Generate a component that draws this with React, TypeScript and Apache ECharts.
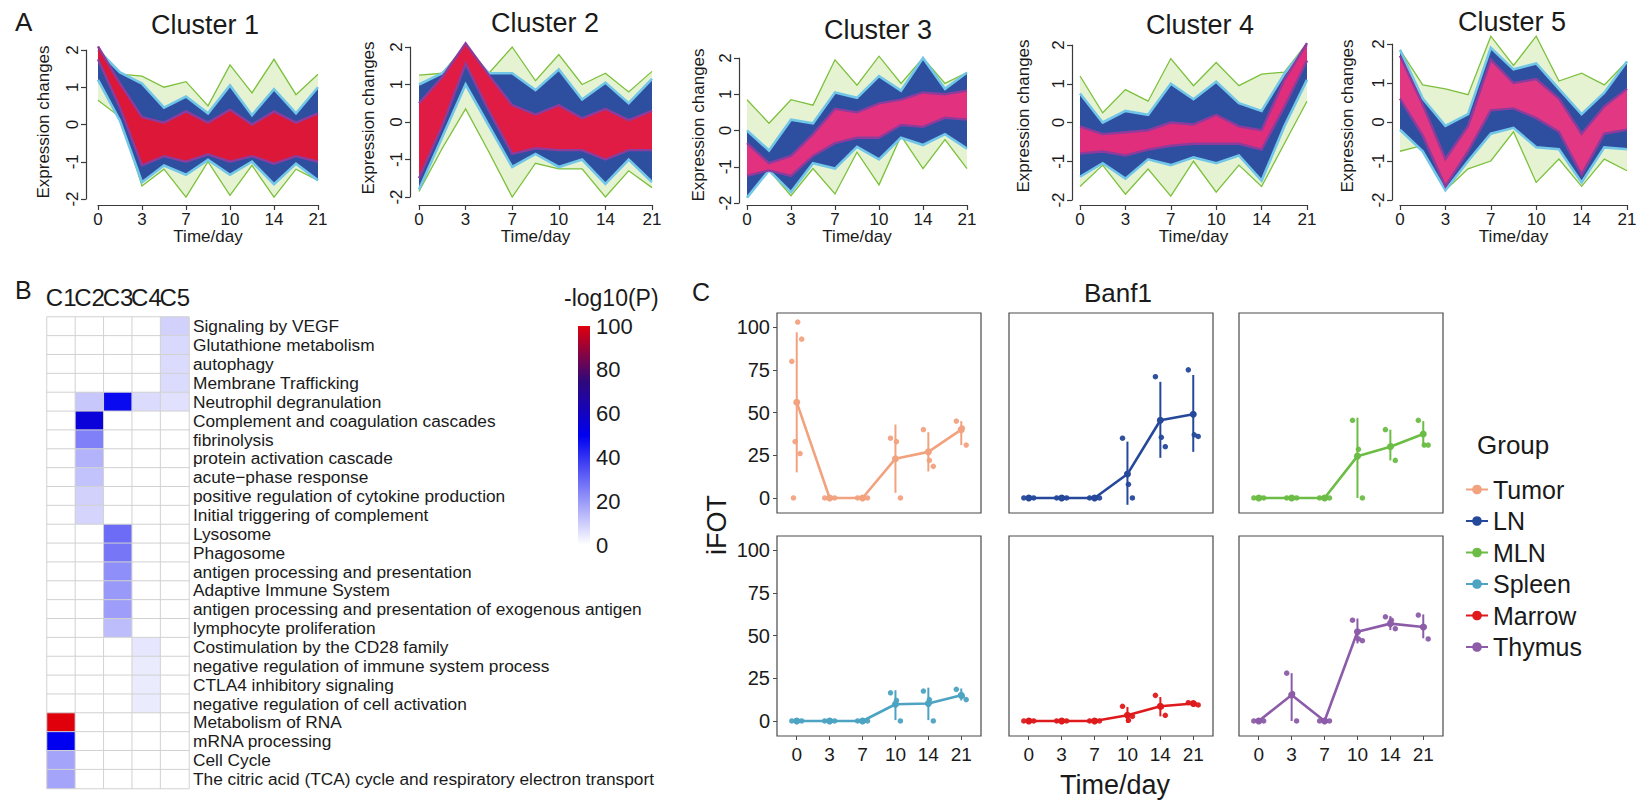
import React, { useEffect, useRef } from 'react';
import * as echarts from 'echarts';

const FONT = "'Liberation Sans', Arial, Helvetica, sans-serif";

// ---------- Panel A : Mfuzz clusters (11 time steps, labelled every 2nd) ----------
const timeLabels = ['0', '3', '7', '10', '14', '21'];
const clusterNames = ['Cluster 1', 'Cluster 2', 'Cluster 3', 'Cluster 4', 'Cluster 5'];

const c1GreenHi = [2.05, 1.35, 1.3, 1.0, 1.15, 0.5, 1.6, 0.85, 1.75, 0.8, 1.35];
const c1GreenLo = [0.65, 0.2, -1.65, -1.2, -1.95, -1.0, -1.9, -1.1, -1.95, -1.2, -1.5];
const c1BlueHi = [2.0, 1.4, 1.1, 0.45, 0.75, 0.3, 1.05, 0.25, 0.95, 0.3, 1.0];
const c1BlueLo = [1.2, 0.1, -1.55, -1.1, -1.35, -0.95, -1.35, -1.0, -1.6, -1.05, -1.5];
const c1CoreHi = [2.1, 1.1, 0.2, 0.05, 0.35, 0.05, 0.4, 0.0, 0.35, 0.05, 0.3];
const c1CoreLo = [1.75, 0.45, -1.1, -0.85, -1.0, -0.8, -1.0, -0.85, -1.05, -0.85, -1.0];

const c2GreenHi = [1.25, 1.3, 2.05, 1.3, 2.0, 1.1, 1.8, 1.0, 1.3, 0.8, 1.35];
const c2GreenLo = [-1.85, -0.7, 0.35, -0.8, -2.0, -1.1, -1.25, -1.25, -2.0, -1.3, -1.75];
const c2BlueHi = [1.0, 1.3, 1.95, 1.3, 1.3, 0.85, 1.4, 0.6, 1.05, 0.5, 1.15];
const c2BlueLo = [-1.8, -0.4, 1.0, -0.1, -1.2, -0.85, -1.2, -1.0, -1.65, -1.0, -1.6];
const c2CoreHi = [0.5, 1.2, 2.1, 1.25, 0.45, 0.2, 0.45, 0.1, 0.35, 0.05, 0.3];
const c2CoreLo = [-1.5, -0.1, 1.55, 0.3, -0.85, -0.7, -0.75, -0.75, -1.0, -0.75, -0.75];

const c3GreenHi = [0.85, 0.2, 0.85, 0.7, 1.95, 1.25, 2.05, 1.3, 2.0, 1.3, 1.6];
const c3GreenLo = [-1.85, -1.1, -1.8, -1.05, -1.75, -0.6, -1.5, -0.15, -1.05, -0.25, -1.05];
const c3BlueHi = [0.0, -0.55, 0.3, 0.2, 1.05, 0.9, 1.5, 1.1, 2.0, 1.15, 1.6];
const c3BlueLo = [-1.85, -1.1, -1.7, -0.9, -1.05, -0.45, -0.8, -0.2, -0.4, -0.1, -0.5];
const c3CoreHi = [-0.35, -0.9, -0.7, -0.1, 0.6, 0.5, 0.75, 0.85, 1.05, 1.0, 1.1];
const c3CoreLo = [-1.25, -1.1, -1.25, -0.7, -0.35, -0.2, -0.2, 0.15, 0.1, 0.35, 0.3];

const c4GreenHi = [1.2, 0.25, 0.85, 0.55, 1.65, 0.95, 1.55, 0.95, 1.25, 1.3, 2.05];
const c4GreenLo = [-1.65, -1.1, -1.85, -1.2, -1.9, -1.0, -1.8, -1.1, -1.65, -0.55, 0.55];
const c4BlueHi = [0.75, 0.0, 0.3, 0.2, 1.0, 0.6, 1.05, 0.5, 0.3, 1.25, 2.0];
const c4BlueLo = [-1.4, -1.05, -1.45, -0.95, -1.1, -0.9, -1.05, -0.85, -1.5, -0.1, 1.1];
const c4CoreHi = [-0.1, -0.3, -0.25, -0.2, 0.0, -0.05, 0.2, -0.1, -0.2, 1.1, 2.05];
const c4CoreLo = [-0.8, -0.75, -0.85, -0.7, -0.6, -0.55, -0.55, -0.55, -0.7, 0.4, 1.6];

const c5GreenHi = [1.85, 0.95, 0.85, 0.7, 2.2, 1.45, 2.2, 1.05, 1.25, 0.95, 1.55];
const c5GreenLo = [-0.75, -0.6, -1.75, -1.2, -1.0, -0.25, -1.55, -0.95, -1.65, -0.95, -1.25];
const c5BlueHi = [1.85, 0.6, -0.1, 0.2, 1.9, 1.35, 1.5, 0.85, 0.2, 0.75, 1.55];
const c5BlueLo = [-0.2, -0.75, -1.75, -1.0, -0.3, -0.15, -0.65, -0.7, -1.55, -0.65, -0.7];
const c5CoreHi = [1.7, 0.45, -0.95, -0.1, 1.6, 1.0, 1.1, 0.6, -0.3, 0.4, 0.85];
const c5CoreLo = [0.6, -0.35, -1.65, -0.75, 0.3, 0.35, 0.1, -0.25, -1.35, -0.3, -0.2];

// ---------- Panel B : enrichment heatmap ----------
const clusterCols = ['C1', 'C2', 'C3', 'C4', 'C5'];
const termLabels = [
  'Signaling by VEGF',
  'Glutathione metabolism',
  'autophagy',
  'Membrane Trafficking',
  'Neutrophil degranulation',
  'Complement and coagulation cascades',
  'fibrinolysis',
  'protein activation cascade',
  'acute\u2212phase response',
  'positive regulation of cytokine production',
  'Initial triggering of complement',
  'Lysosome',
  'Phagosome',
  'antigen processing and presentation',
  'Adaptive Immune System',
  'antigen processing and presentation of exogenous antigen',
  'lymphocyte proliferation',
  'Costimulation by the CD28 family',
  'negative regulation of immune system process',
  'CTLA4 inhibitory signaling',
  'negative regulation of cell activation',
  'Metabolism of RNA',
  'mRNA processing',
  'Cell Cycle',
  'The citric acid (TCA) cycle and respiratory electron transport',
];
const enrichment = [
  [0, 0, 0, 0, 9],
  [0, 0, 0, 0, 7.5],
  [0, 0, 0, 0, 7],
  [0, 0, 0, 0, 7],
  [0, 11, 48, 7, 6],
  [0, 55, 0, 0, 0],
  [0, 25, 0, 0, 0],
  [0, 15, 0, 0, 0],
  [0, 12, 0, 0, 0],
  [0, 9, 0, 0, 0],
  [0, 8.5, 0, 0, 0],
  [0, 0, 29, 0, 0],
  [0, 0, 27, 0, 0],
  [0, 0, 22, 0, 0],
  [0, 0, 20, 0, 0],
  [0, 0, 19, 0, 0],
  [0, 0, 13, 0, 0],
  [0, 0, 0, 5, 0],
  [0, 0, 0, 4, 0],
  [0, 0, 0, 4, 0],
  [0, 0, 0, 4, 0],
  [100, 0, 0, 0, 0],
  [50, 0, 0, 0, 0],
  [18, 0, 0, 0, 0],
  [18, 0, 0, 0, 0],
];
const colorbarTicks = [0, 20, 40, 60, 80, 100];

// ---------- Panel C : Banf1 iFOT ----------
const groupNames = ['Tumor', 'LN', 'MLN', 'Spleen', 'Marrow', 'Thymus'];
const iFotTicks = [0, 25, 50, 75, 100];

const tumorMean = [56, 0, 0, 23, 27, 40];
const tumorLow = [15, 0, 0, 3, 15.5, 31];
const tumorHigh = [97, 0, 0, 43, 38.5, 45];
const tumorPoints = [[80, 103, 93, 33, 26, 0], [0, 0, 0], [0, 0, 0], [35, 33, 0], [40, 22, 18.5], [45, 41, 31]];

const lnMean = [0, 0, 0, 14, 45.5, 49];
const lnLow = [0, 0, 0, -4, 23.5, 27];
const lnHigh = [0, 0, 0, 33, 68, 72];
const lnPoints = [[0, 0, 0], [0, 0, 0], [0, 0, 0], [35, 8, 0], [71, 35.5, 30], [75, 37, 36]];

const mlnMean = [0, 0, 0, 24.5, 30, 37.5];
const mlnLow = [0, 0, 0, 0, 22, 30.5];
const mlnHigh = [0, 0, 0, 47, 40, 45];
const mlnPoints = [[0, 0, 0], [0, 0, 0], [0, 0, 0], [45.5, 28.5, 0], [40, 30.5, 22], [45.5, 31, 31]];

const spleenMean = [0, 0, 0, 9.8, 10.2, 15];
const spleenLow = [0, 0, 0, 0.5, 0.5, 12];
const spleenHigh = [0, 0, 0, 18, 19.5, 19];
const spleenPoints = [[0, 0, 0], [0, 0, 0], [0, 0, 0], [16.5, 12, 0], [17.5, 12.5, 0], [18.5, 14.5, 12.5]];

const marrowMean = [0, 0, 0, 3.3, 8.6, 10.2];
const marrowLow = [0, 0, 0, -1.2, 2.7, 9.2];
const marrowHigh = [0, 0, 0, 8.2, 14, 11.5];
const marrowPoints = [[0, 0, 0], [0, 0, 0], [0, 0, 0], [8.6, 0.4, 2.7], [15, 8.2, 3.3], [10.7, 10, 9.4]];

const thymusMean = [0, 15.2, 0, 52.2, 57, 55];
const thymusLow = [0, 0, 0, 45.4, 53.2, 48.4];
const thymusHigh = [0, 28, 0, 60, 61.4, 62.4];
const thymusPoints = [[0, 0, 0], [28, 16, 0], [0, 0, 0], [59, 48, 47], [61, 59, 54], [62, 55, 48]];

// ---------- layout / style ----------
const clusters = [
  { g: [c1GreenHi, c1GreenLo], b: [c1BlueHi, c1BlueLo], r: [c1CoreHi, c1CoreLo], core: '#dc1738' },
  { g: [c2GreenHi, c2GreenLo], b: [c2BlueHi, c2BlueLo], r: [c2CoreHi, c2CoreLo], core: '#e01c44' },
  { g: [c3GreenHi, c3GreenLo], b: [c3BlueHi, c3BlueLo], r: [c3CoreHi, c3CoreLo], core: '#e2327f' },
  { g: [c4GreenHi, c4GreenLo], b: [c4BlueHi, c4BlueLo], r: [c4CoreHi, c4CoreLo], core: '#e02d7c' },
  { g: [c5GreenHi, c5GreenLo], b: [c5BlueHi, c5BlueLo], r: [c5CoreHi, c5CoreLo], core: '#e23884' },
];
const aGrids = [
  { left: 98, top: 50, width: 220, height: 149, axisX: 86, title: [205, 25], ylab: [43, 122] },
  { left: 419, top: 47, width: 233, height: 150, axisX: 410, title: [545, 23], ylab: [368, 118] },
  { left: 747, top: 58, width: 220, height: 145, axisX: 739, title: [878, 30], ylab: [698, 125] },
  { left: 1080, top: 45, width: 227, height: 155, axisX: 1072, title: [1200, 25], ylab: [1023, 116] },
  { left: 1400, top: 44, width: 227, height: 156, axisX: 1392, title: [1512, 22], ylab: [1347, 116] },
];
const groupColors = ['#f2a27f', '#25489b', '#6cbd45', '#4ca3c2', '#de1a1c', '#8c5ca8'];
const groups = [
  { mean: tumorMean, low: tumorLow, high: tumorHigh, pts: tumorPoints },
  { mean: lnMean, low: lnLow, high: lnHigh, pts: lnPoints },
  { mean: mlnMean, low: mlnLow, high: mlnHigh, pts: mlnPoints },
  { mean: spleenMean, low: spleenLow, high: spleenHigh, pts: spleenPoints },
  { mean: marrowMean, low: marrowLow, high: marrowHigh, pts: marrowPoints },
  { mean: thymusMean, low: thymusLow, high: thymusHigh, pts: thymusPoints },
];
const cLefts = [777, 1009, 1239];
const cTops = [313, 536];
const jitter = [-0.15, 0.03, 0.15, -0.05, 0.1, -0.1];

const heatColors = ['#ffffff', '#8080f8', '#0000f0', '#30087a', '#e0000c'];

function band(gi: number, hi: number[], lo: number[], fill: string, stroke: string, lw: number, fillOpacity: number) {
  return {
    type: 'custom',
    xAxisIndex: gi,
    yAxisIndex: gi,
    clip: false,
    silent: true,
    data: [[0, 0]],
    renderItem: (_p: any, api: any) => {
      const top = hi.map((v, i) => api.coord([i, v]));
      const bot = lo.map((v, i) => api.coord([i, v]));
      return {
        type: 'group',
        children: [
          { type: 'polygon', shape: { points: top.concat(bot.slice().reverse()) }, style: { fill, opacity: fillOpacity } },
          { type: 'polyline', shape: { points: top }, style: { stroke, lineWidth: lw, fill: 'none', lineJoin: 'miter' } },
          { type: 'polyline', shape: { points: bot }, style: { stroke, lineWidth: lw, fill: 'none', lineJoin: 'miter' } },
        ],
      };
    },
  };
}

function txt(text: string, x: number, y: number, size: number, align = 'center', rot = 0) {
  return {
    type: 'text',
    x,
    y,
    rotation: rot,
    style: { text, fontSize: size, fontFamily: FONT, fill: '#1a1a1a', align, verticalAlign: 'middle' },
  };
}

function buildOption() {
  const grid: any[] = [];
  const xAxis: any[] = [];
  const yAxis: any[] = [];
  const series: any[] = [];
  const graphic: any[] = [];

  // Panel A
  aGrids.forEach((g, i) => {
    grid.push({ left: g.left, top: g.top, width: g.width, height: g.height });
    const axisStyle = { color: '#3a3a3a', width: 1.2 };
    xAxis.push({
      gridIndex: i, type: 'value', min: 0, max: 10, interval: 2,
      offset: 205 - (g.top + g.height),
      axisLine: { show: true, onZero: false, lineStyle: axisStyle },
      axisTick: { show: true, length: 5, lineStyle: axisStyle },
      axisLabel: { fontSize: 17, color: '#1a1a1a', margin: 6, fontFamily: FONT, formatter: (v: number) => timeLabels[v / 2] },
      splitLine: { show: false },
    });
    yAxis.push({
      gridIndex: i, type: 'value', min: -2, max: 2, interval: 1,
      offset: g.left - g.axisX,
      axisLine: { show: true, onZero: false, lineStyle: axisStyle },
      axisTick: { show: true, length: 5, lineStyle: axisStyle },
      axisLabel: { fontSize: 17, color: '#1a1a1a', margin: 5, rotate: 90, fontFamily: FONT },
      splitLine: { show: false },
    });
    const c = clusters[i];
    series.push(band(i, c.g[0], c.g[1], '#b5dc80', '#7cc03c', 1.3, 0.35));
    series.push(band(i, c.b[0], c.b[1], '#2e4ea0', '#72c6e8', 2.6, 1));
    series.push(band(i, c.r[0], c.r[1], c.core, '#8c3c9c', 2.4, 1));
    graphic.push(txt(clusterNames[i], g.title[0], g.title[1], 27));
    graphic.push(txt('Expression changes', g.ylab[0], g.ylab[1], 17, 'center', Math.PI / 2));
    graphic.push(txt('Time/day', g.left + g.width / 2, 236, 17));
  });
  graphic.push(txt('A', 15, 22, 26, 'left'));

  // Panel B heatmap
  const hIdx = grid.length;
  grid.push({ left: 47, top: 317, width: 142, height: 471.5 });
  xAxis.push({
    gridIndex: hIdx, type: 'category', data: clusterCols, position: 'top',
    axisLine: { show: false }, axisTick: { show: false },
    axisLabel: { interval: 0, fontSize: 24, color: '#1a1a1a', margin: 8, fontFamily: FONT },
  });
  yAxis.push({
    gridIndex: hIdx, type: 'category', data: termLabels, inverse: true, position: 'right',
    axisLine: { show: false }, axisTick: { show: false },
    axisLabel: { interval: 0, fontSize: 17.3, color: '#1a1a1a', margin: 4, fontFamily: FONT },
  });
  const heatData: any[] = [];
  enrichment.forEach((row, r) => row.forEach((v, c) => heatData.push([c, r, v])));
  const heatSeriesIndex = series.length;
  series.push({
    type: 'heatmap', xAxisIndex: hIdx, yAxisIndex: hIdx, data: heatData,
    itemStyle: { borderColor: '#d2d2d2', borderWidth: 1 },
  });

  // colour bar
  const cbIdx = grid.length;
  grid.push({ left: 578, top: 326, width: 12, height: 219 });
  xAxis.push({ gridIndex: cbIdx, type: 'value', min: 0, max: 1, show: false });
  yAxis.push({
    gridIndex: cbIdx, type: 'value', min: 0, max: 100, interval: 20, position: 'right',
    axisLine: { show: false, onZero: false }, axisTick: { show: false }, splitLine: { show: false },
    axisLabel: { fontSize: 22, color: '#1a1a1a', margin: 6, fontFamily: FONT, customValues: colorbarTicks },
  });
  series.push({
    type: 'custom', xAxisIndex: cbIdx, yAxisIndex: cbIdx, silent: true, data: [[0, 0]],
    renderItem: (_p: any, api: any) => {
      const a = api.coord([0, 100]);
      const b = api.coord([1, 0]);
      return {
        type: 'rect',
        shape: { x: a[0], y: a[1], width: b[0] - a[0], height: b[1] - a[1] },
        style: {
          fill: new echarts.graphic.LinearGradient(0, 1, 0, 0,
            heatColors.map((col, k) => ({ offset: k / (heatColors.length - 1), color: col }))),
        },
      };
    },
  });
  graphic.push(txt('B', 15, 290, 25, 'left'));
  graphic.push(txt('-log10(P)', 564, 298, 23, 'left'));

  // Panel C facets
  groups.forEach((gr, k) => {
    const row = Math.floor(k / 3);
    const col = k % 3;
    const gi = grid.length;
    grid.push({ left: cLefts[col], top: cTops[row], width: 204, height: 200, show: true, borderColor: '#4a4a4a', borderWidth: 1.2, backgroundColor: '#ffffff' });
    xAxis.push({
      gridIndex: gi, type: 'value', min: -0.6, max: 5.6,
      axisLine: { show: false, onZero: false }, splitLine: { show: false },
      axisTick: { show: row === 1, length: 4, customValues: [0, 1, 2, 3, 4, 5], lineStyle: { color: '#4a4a4a' } },
      axisLabel: { show: row === 1, customValues: [0, 1, 2, 3, 4, 5], fontSize: 19, color: '#1a1a1a', margin: 9, fontFamily: FONT, formatter: (v: number) => timeLabels[Math.round(v)] },
    });
    yAxis.push({
      gridIndex: gi, type: 'value', min: -8.8, max: 108.3,
      axisLine: { show: false, onZero: false }, splitLine: { show: false },
      axisTick: { show: col === 0, length: 4, customValues: iFotTicks, lineStyle: { color: '#4a4a4a' } },
      axisLabel: { show: col === 0, customValues: iFotTicks, fontSize: 20, color: '#1a1a1a', margin: 7, fontFamily: FONT },
    });
    const color = groupColors[k];
    series.push({
      name: groupNames[k], type: 'line', xAxisIndex: gi, yAxisIndex: gi, z: 4,
      data: gr.mean.map((v, i) => [i, v]),
      lineStyle: { color, width: 2.6 }, itemStyle: { color },
      symbol: 'circle', symbolSize: 7, showSymbol: true,
    });
    series.push({
      name: groupNames[k] + ' sd', type: 'custom', xAxisIndex: gi, yAxisIndex: gi, z: 3,
      data: gr.mean.map((_v, i) => [i, gr.low[i], gr.high[i]]),
      encode: { x: 0, y: [1, 2] },
      renderItem: (_p: any, api: any) => {
        const x = api.value(0);
        const lo = api.value(1);
        const hi = api.value(2);
        if (hi - lo < 0.01) return null;
        const a = api.coord([x, lo]);
        const b = api.coord([x, hi]);
        return { type: 'line', shape: { x1: a[0], y1: a[1], x2: b[0], y2: b[1] }, style: { stroke: color, lineWidth: 2 } };
      },
    });
    const pts: any[] = [];
    gr.pts.forEach((arr, i) => arr.forEach((v, j) => pts.push([i + jitter[j % jitter.length], v])));
    series.push({
      name: groupNames[k] + ' pts', type: 'scatter', xAxisIndex: gi, yAxisIndex: gi, z: 3,
      data: pts, symbolSize: 5.5, itemStyle: { color, opacity: 0.95 },
    });
  });
  graphic.push(txt('C', 692, 292, 25, 'left'));
  graphic.push(txt('Banf1', 1118, 293, 26));
  graphic.push(txt('iFOT', 717, 525, 27, 'center', Math.PI / 2));
  graphic.push(txt('Time/day', 1115, 785, 27));
  graphic.push(txt('Group', 1477, 445, 26, 'left'));

  return {
    animation: false,
    backgroundColor: '#ffffff',
    textStyle: { fontFamily: FONT },
    grid,
    xAxis,
    yAxis,
    series,
    graphic,
    visualMap: [{
      show: false, type: 'continuous', min: 0, max: 100, seriesIndex: heatSeriesIndex,
      inRange: { color: heatColors },
    }],
    legend: {
      data: groupNames, orient: 'vertical', left: 1460, top: 472,
      itemWidth: 22, itemHeight: 12, itemGap: 6.5,
      textStyle: { fontSize: 25, color: '#1a1a1a', fontFamily: FONT, lineHeight: 25 },
    },
  };
}

export default function App() {
  const ref = useRef<HTMLDivElement>(null);
  useEffect(() => {
    document.body.style.margin = '0';
    const chart = echarts.init(ref.current as HTMLDivElement, undefined, { renderer: 'svg' });
    chart.setOption(buildOption() as any);
    return () => chart.dispose();
  }, []);
  return <div ref={ref} style={{ position: 'fixed', left: 0, top: 0, width: 1648, height: 802, background: '#fff' }} />;
}
